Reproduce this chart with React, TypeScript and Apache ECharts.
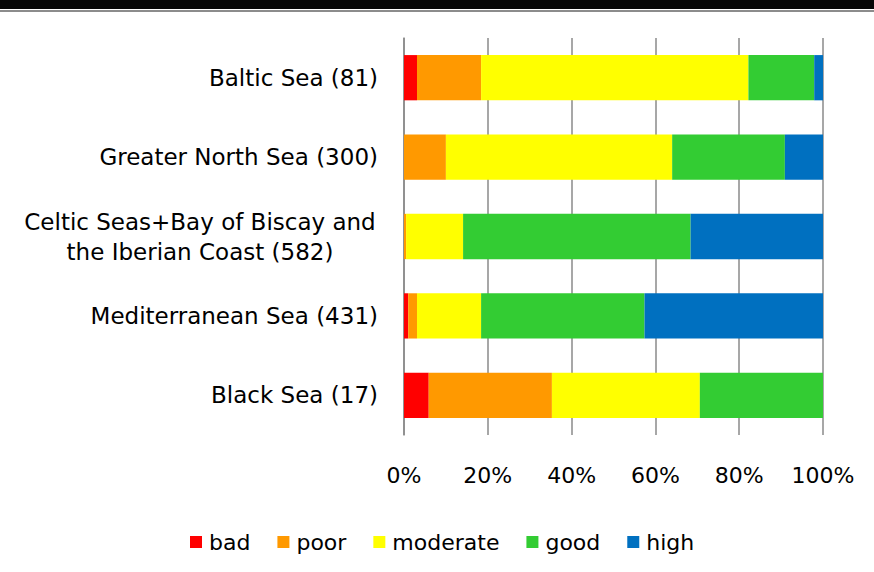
import React, { useEffect, useRef } from "react";
import * as echarts from "echarts";

// Regions, top to bottom, with the number of assessments in brackets
const regions = [
  "Baltic Sea (81)",
  "Greater North Sea (300)",
  "Celtic Seas+Bay of Biscay and\nthe Iberian Coast (582)",
  "Mediterranean Sea (431)",
  "Black Sea (17)",
];

// Share of assessments (%) in each status class, per region
const bad = [3.1, 0, 0, 1.0, 5.9];
const poor = [15.3, 10.0, 0.5, 2.1, 29.4];
const moderate = [63.8, 54.0, 13.6, 15.3, 35.3];
const good = [15.7, 26.9, 54.3, 39.0, 29.4];
const high = [2.1, 9.1, 31.6, 42.6, 0];

const statusNames = ["bad", "poor", "moderate", "good", "high"];
const statusValues = [bad, poor, moderate, good, high];
const statusColors = ["#ff0000", "#ff9900", "#ffff00", "#33cc33", "#0070c0"];

const FONT = "DejaVu Sans";

export default function App() {
  const ref = useRef<HTMLDivElement>(null);

  useEffect(() => {
    if (!ref.current) return;
    const chart = echarts.init(ref.current, null, { renderer: "svg" });

    chart.setOption({
      animation: false,
      backgroundColor: "#ffffff",
      textStyle: { fontFamily: FONT, color: "#000" },
      graphic: [
        {
          type: "rect",
          left: 0,
          top: 0,
          shape: { width: 874, height: 9 },
          style: { fill: "#060606" },
          silent: true,
        },
        {
          type: "rect",
          left: 0,
          top: 10,
          shape: { width: 874, height: 2 },
          style: { fill: "#8c8c8c" },
          silent: true,
        },
      ],
      grid: { left: 404, right: 51, top: 38, bottom: 137, containLabel: false },
      legend: {
        bottom: 14,
        left: 185,
        itemWidth: 12,
        itemHeight: 12,
        itemGap: 27,
        icon: "rect",
        textStyle: { fontFamily: FONT, fontSize: 22, color: "#000", padding: [0, 0, 0, 2] },
        data: statusNames,
      },
      xAxis: {
        type: "value",
        min: 0,
        max: 100,
        interval: 20,
        axisLine: { show: false },
        axisTick: { show: false },
        axisLabel: {
          formatter: "{value}%",
          margin: 29,
          fontFamily: FONT,
          fontSize: 22,
          color: "#000",
        },
        splitLine: { show: true, lineStyle: { color: "#8a8a8a", width: 1.5 } },
      },
      yAxis: {
        type: "category",
        inverse: true,
        data: regions,
        axisLine: { show: true, lineStyle: { color: "#8a8a8a", width: 1.5 } },
        axisTick: { show: false },
        axisLabel: {
          margin: 26,
          fontFamily: FONT,
          fontSize: 23,
          color: "#000",
          lineHeight: 30,
          formatter: (v: string) =>
            v.includes("\n")
              ? v
                  .split("\n")
                  .map((line) => `{c|${line}}`)
                  .join("\n")
              : v,
          rich: {
            c: {
              width: 356,
              align: "center",
              fontFamily: FONT,
              fontSize: 23,
              lineHeight: 30,
              color: "#000",
            },
          },
        },
      },
      series: statusNames.map((name, i) => ({
        name,
        type: "bar",
        stack: "total",
        barCategoryGap: "43%",
        itemStyle: { color: statusColors[i] },
        emphasis: { disabled: true },
        data: statusValues[i],
      })),
    });

    return () => chart.dispose();
  }, []);

  return (
    <div
      ref={ref}
      style={{ position: "absolute", left: 0, top: 0, width: 874, height: 572 }}
    />
  );
}
